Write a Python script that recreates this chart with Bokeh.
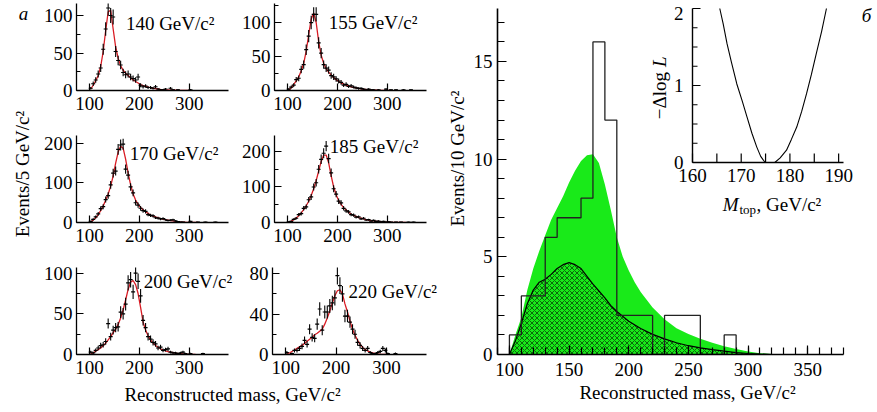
import numpy as np
from bokeh.plotting import figure
from bokeh.models import Range1d, SingleIntervalTicker, Label
from bokeh.layouts import row, column
from bokeh.embed import file_html
from bokeh.resources import INLINE
from bokeh.core.properties import value

FONT = "Liberation Serif"
FS = "19px"
GREEN = "#19ea19"
RED = "#d91c24"

# ---------------- data: small panels (5 GeV bins) ----------------
MASS5 = np.arange(102.5, 360.0, 5.0)   # bin centres 102.5 ... 357.5

P140_N = [3, 9, 14, 22, 30, 55, 82, 110, 100, 98,
          52, 40, 34, 24, 21, 22, 18, 16, 14, 18,
          7, 5, 6, 4, 4, 3, 5, 2, 1, 1,
          2, 0, 3, 1, 0, 1, 0, 0, 0, 0,
          1, 0, 0, 0, 0, 0, 0, 0, 0, 0, 0, 0]
P140_FIT = [2, 7, 13, 20, 32, 52, 80, 105, 107, 82,
            58, 43, 33, 27, 23, 20, 17, 14, 12, 10,
            8, 6.5, 5.5, 4.5, 3.7, 3, 2.5, 2, 1.6, 1.3,
            1, 0.8, 0.6, 0.5, 0.4, 0.3, 0.2, 0.15, 0.1, 0.05,
            0, 0, 0, 0, 0, 0, 0, 0, 0, 0, 0, 0]

P155_N = [2, 5, 8, 16, 18, 31, 38, 60, 80, 100,
          112, 112, 70, 55, 38, 33, 30, 22, 20, 17,
          14, 12, 8, 9, 6, 7, 5, 4, 3, 3,
          2, 1, 2, 1, 1, 0, 1, 0, 0, 2,
          0, 1, 0, 1, 0, 0, 1, 0, 0, 1, 0, 0]
P155_FIT = [1, 4, 9, 14, 20, 29, 40, 58, 82, 105,
            114, 100, 72, 52, 40, 32, 27, 23, 19, 16,
            13.5, 11, 9.5, 8, 6.5, 5.5, 4.5, 3.7, 3, 2.4,
            1.9, 1.5, 1.2, 0.9, 0.7, 0.5, 0.35, 0.25, 0.15, 0.1,
            0.05, 0, 0, 0, 0, 0, 0, 0, 0, 0, 0, 0]

P170_N = [3, 8, 14, 22, 35, 40, 58, 68, 95, 125,
          130, 185, 196, 198, 135, 120, 90, 75, 50, 44,
          36, 30, 28, 20, 18, 17, 12, 11, 9, 10,
          7, 5, 6, 7, 4, 2, 1, 1, 0, 0,
          3, 0, 0, 1, 0, 0, 1, 0, 0, 0, 1, 0]
P170_FIT = [2, 6, 12, 20, 30, 42, 56, 72, 92, 118,
            150, 178, 193, 188, 160, 125, 95, 72, 57, 46,
            38, 32, 27, 23, 19, 16, 14, 12, 10, 8.5,
            7, 6, 5, 4, 3, 2.3, 1.7, 1.2, 0.8, 0.5,
            0.3, 0.2, 0.1, 0, 0, 0, 0, 0, 0, 0, 0, 0]

P185_N = [2, 3, 9, 12, 22, 25, 40, 44, 64, 72,
          100, 112, 150, 178, 195, 215, 180, 140, 95, 80,
          60, 55, 40, 33, 30, 22, 21, 15, 16, 10,
          12, 7, 8, 4, 6, 3, 4, 2, 3, 1,
          2, 1, 0, 1, 0, 1, 0, 0, 1, 0, 1, 0]
P185_FIT = [1, 4, 8, 13, 19, 27, 36, 47, 60, 76,
            95, 118, 145, 172, 190, 190, 168, 132, 100, 78,
            62, 51, 42, 35, 29, 24, 20, 17, 14, 12,
            10, 8, 6.5, 5.5, 4.5, 3.5, 2.8, 2.2, 1.7, 1.3,
            1, 0.7, 0.5, 0.35, 0.25, 0.15, 0.1, 0, 0, 0, 0, 0]

P200_N = [3, 2, 5, 8, 11, 12, 16, 38, 22, 30,
          33, 34, 52, 50, 62, 88, 92, 77, 100, 90,
          72, 42, 33, 22, 19, 15, 13, 8, 9, 5,
          6, 7, 3, 2, 2, 1, 2, 3, 1, 0,
          1, 0, 0, 0, 0, 1, 0, 0, 0, 0, 0, 0]
P200_FIT = [1, 2, 4, 6, 8, 11, 14, 18, 22, 27,
            31, 37, 45, 55, 67, 80, 89, 91, 86, 75,
            58, 40, 30, 23, 18, 14, 11, 9, 7, 5.5,
            4.5, 3.5, 2.8, 2.2, 1.7, 1.3, 1, 0.7, 0.5, 0.3,
            0.2, 0.1, 0, 0, 0, 0, 0, 0, 0, 0, 0, 0]

P220_N = [2, 0, 1, 4, 4, 6, 8, 14, 10, 25,
          17, 16, 30, 45, 24, 42, 42, 48, 51, 56,
          78, 68, 60, 38, 38, 32, 25, 20, 12, 9,
          6, 4, 6, 2, 1, 1, 2, 3, 6, 4,
          1, 0, 0, 1, 0, 0, 0, 0, 0, 0, 0, 0]
P220_FIT = [0.5, 1.5, 3, 4.5, 6, 7.5, 9, 11, 13, 15,
            17, 19.5, 21, 23, 25, 30, 36, 43, 51, 58,
            63, 64, 60, 50, 42, 33, 25, 19, 14, 10,
            7, 5, 3.5, 2.3, 1.5, 1, 0.6, 0.3, 0.15, 0.05,
            0, 0, 0, 0, 0, 0, 0, 0, 0, 0, 0, 0]

# ---------------- data: main panel (10 GeV bins) ----------------
HIST_LO = [100, 110, 120, 130, 140, 150, 160, 170, 180, 190,
           200, 210, 220, 230, 240, 250, 260, 270, 280, 290]
HIST_N = [1, 3, 3, 6, 7, 7, 8, 16, 12, 2,
          2, 2, 0, 2, 2, 2, 0, 0, 1, 0]
HIST_W = 10

TOT_M = [100, 105, 110, 115, 120, 125, 130, 135, 140, 145, 150, 155, 160, 165,
         170, 175, 180, 185, 190, 195, 200, 205, 210, 215, 220, 230, 240, 250,
         260, 270, 280, 290, 300, 310, 320, 330]
TOT_V = [0, 1.0, 1.9, 3.3, 4.4, 5.3, 6.1, 6.9, 7.5, 8.1, 8.8, 9.4, 9.9, 10.2,
         10.25, 9.8, 8.7, 7.4, 6.0, 5.0, 4.3, 3.7, 3.2, 2.8, 2.4, 1.8, 1.35, 1.05,
         0.8, 0.6, 0.42, 0.28, 0.15, 0.07, 0.02, 0]

BKG_M = [100, 105, 110, 115, 120, 125, 130, 135, 140, 145, 150, 155, 160, 165,
         170, 175, 180, 185, 190, 200, 210, 220, 230, 240, 250, 260, 270, 280,
         290, 300, 310, 320]
BKG_V = [0, 0.7, 1.6, 2.6, 3.3, 3.7, 3.85, 4.1, 4.4, 4.6, 4.7, 4.6, 4.4, 4.0,
         3.6, 3.25, 2.9, 2.5, 2.2, 1.7, 1.33, 1.03, 0.8, 0.6, 0.45, 0.34, 0.25, 0.17,
         0.1, 0.05, 0.02, 0]

# ---------------- data: inset (-dlogL vs Mtop) ----------------
MTOP = [165.6, 166.3, 167.1, 168.0, 169.1, 170.2, 171.2, 172.2, 173.2, 174.0,
        174.9, 176.9, 178.0, 179.3, 180.3, 181.4, 182.4, 183.4, 184.4, 185.4,
        186.5, 187.5]
DLOGL = [2.0, 1.8, 1.54, 1.3, 1.02, 0.8, 0.59, 0.38, 0.2, 0.08,
         0.0, 0.0, 0.06, 0.16, 0.3, 0.46, 0.66, 0.89, 1.14, 1.41,
         1.7, 2.0]
INSET_X = (160, 191)
INSET_Y = (0, 2)
INSET_XTICKS = [160, 165, 170, 175, 180, 185, 190]
INSET_XLABELS = [160, 170, 180, 190]
INSET_YTICKS = [0, 0.25, 0.5, 0.75, 1, 1.25, 1.5, 1.75, 2]
INSET_YLABELS = [0, 1, 2]


def style_axes(p, xint, xminor, yint, yminor, xstand, ystand, xb, yb, tick_in=7, minor_in=4):
    p.xaxis.ticker = SingleIntervalTicker(interval=xint, num_minor_ticks=xminor)
    p.yaxis.ticker = SingleIntervalTicker(interval=yint, num_minor_ticks=yminor)
    p.xaxis.bounds = xb
    p.yaxis.bounds = yb
    for ax in (p.xaxis[0], p.yaxis[0]):
        ax.major_tick_in = tick_in
        ax.major_tick_out = 0
        ax.minor_tick_in = minor_in
        ax.minor_tick_out = 0
        ax.axis_line_width = 1.3
        ax.axis_line_color = "black"
        ax.major_tick_line_width = 1.2
        ax.minor_tick_line_width = 1.2
        ax.major_tick_line_color = "black"
        ax.minor_tick_line_color = "black"
        ax.major_label_text_font = FONT
        ax.major_label_text_font_size = FS
        ax.major_label_text_color = "black"
    p.xaxis.major_label_standoff = xstand
    p.yaxis.major_label_standoff = ystand
    p.xgrid.visible = False
    p.ygrid.visible = False
    p.outline_line_color = None


# small panels: visible x axis 74..379 over 154 px
SX0, SX1 = 74, 379
SPXU = 154 / (SX1 - SX0)


def small_panel(counts, fit, ytop, yint, label, lx, ly, width, mbl, height, mbt, mbb):
    fw = width - mbl
    fh = height - mbt - mbb
    p = figure(width=width, height=height, x_range=Range1d(SX0, SX0 + fw / SPXU),
               y_range=Range1d(0, ytop), output_backend="svg", toolbar_location=None,
               title=None, min_border_left=mbl, min_border_right=0,
               min_border_top=mbt, min_border_bottom=mbb)
    style_axes(p, 100, 0, yint, 2, 6, 4, (SX0, SX1), (0, ytop))
    fit = np.array(fit, dtype=float)
    last = int(np.nonzero(fit > 0)[0][-1]) + 2
    p.line(MASS5[:last], fit[:last], color=RED, line_width=1.3)
    c = np.array(counts, dtype=float)
    m = c > 0
    err = np.sqrt(c[m])
    p.segment(x0=MASS5[m], y0=c[m] - err, x1=MASS5[m], y1=c[m] + err,
              color="black", line_width=1.1)
    p.scatter(MASS5[m], c[m], marker="dash", size=4, line_color="black", line_width=1.2)
    lab = Label(x=SX0 + lx / SPXU, y=ly / fh * ytop, text=label,
                text_font=FONT, text_font_size=FS, text_baseline="middle",
                text_align="left", text_color="black")
    p.add_layout(lab)
    return p


W1, W2 = 198, 207
H1, H2, H3 = 120, 132, 131
p1 = small_panel(P140_N, P140_FIT, 116, 50, "140 GeV/c²", 50, 67, W1, 34, H1, 3, 30)
p2 = small_panel(P155_N, P155_FIT, 128, 50, "155 GeV/c²", 55, 68, W2, 34, H1, 3, 30)
p3 = small_panel(P170_N, P170_FIT, 220, 100, "170 GeV/c²", 54, 69, W1, 34, H2, 15, 30)
p4 = small_panel(P185_N, P185_FIT, 245, 100, "185 GeV/c²", 56, 76, W2, 34, H2, 15, 30)
p5 = small_panel(P200_N, P200_FIT, 107, 50, "200 GeV/c²", 68, 73, W1, 34, H3, 15, 29)
p6 = small_panel(P220_N, P220_FIT, 86, 40, "220 GeV/c²", 76, 63, W2, 34, H3, 15, 29)


def text_strip(width, height):
    f = figure(width=width, height=height, x_range=Range1d(0, width), y_range=Range1d(0, height),
               output_backend="svg", toolbar_location=None, title=None,
               x_axis_type=None, y_axis_type=None,
               min_border_left=0, min_border_right=0, min_border_top=0, min_border_bottom=0)
    f.outline_line_color = None
    return f


# shared labels of the left block
ylab = text_strip(40, 412)
ylab.text(x=[23], y=[397], text=["а"], text_font=value(FONT), text_font_size="19px",
          text_font_style="italic", text_align="center", text_baseline="middle", color="black")
ylab.text(x=[22], y=[210], text=["Events/5 GeV/c²"], text_font=value(FONT),
          text_font_size="19px", angle=np.pi / 2, text_align="center",
          text_baseline="middle", color="black")

xlab = text_strip(W1 + W2, 29)
xlab.text(x=[192], y=[18], text=["Reconstructed mass, GeV/c²"], text_font=value(FONT),
          text_font_size="19px", text_align="center", text_baseline="middle", color="black")

# y label of the main panel
mylab = text_strip(24, 412)
mylab.text(x=[12], y=[228], text=["Events/10 GeV/c²"], text_font=value(FONT),
           text_font_size="19px", angle=np.pi / 2, text_align="center",
           text_baseline="middle", color="black")

# ---------------- main panel ----------------
MW, MH = 408, 412
MBL, MBB = 28, 58
fw = MW - MBL          # frame reaches the right edge of the window
fh = MH - MBB          # frame reaches the top of the window
MX = (90, 380)         # drawn x axis, 346 px long
MY = (0, 17.71)        # drawn y axis, 346 px long
MPXU = 346 / (MX[1] - MX[0])
MPYU = 346 / (MY[1] - MY[0])
main = figure(width=MW, height=MH, x_range=Range1d(MX[0], MX[0] + fw / MPXU),
              y_range=Range1d(MY[0], MY[0] + fh / MPYU),
              output_backend="svg", toolbar_location=None, title=None,
              min_border_left=MBL, min_border_right=0, min_border_top=0,
              min_border_bottom=MBB)
style_axes(main, 50, 5, 5, 5, 8, 5, MX, MY, tick_in=9, minor_in=7)
main.xaxis.axis_label = "Reconstructed mass, GeV/c²"
ax = main.xaxis[0]
ax.axis_label_text_font = FONT
ax.axis_label_text_font_size = FS
ax.axis_label_text_font_style = "normal"
ax.axis_label_text_color = "black"
ax.axis_label_standoff = 3
main.xaxis.axis_line_width = 1.6
main.yaxis.axis_line_width = 1.6

main.varea(x=TOT_M, y1=0, y2=TOT_V, fill_color=GREEN)
main.varea(x=BKG_M, y1=0, y2=BKG_V, fill_color=GREEN, hatch_pattern="x",
           hatch_color="black", hatch_scale=5, hatch_weight=0.7, hatch_alpha=0.8)
main.line(BKG_M, BKG_V, color="black", line_width=1.2)

hx, hy = [HIST_LO[0]], [0]
for lo, n in zip(HIST_LO, HIST_N):
    hx += [lo, lo + HIST_W]
    hy += [n, n]
hx.append(HIST_LO[-1] + HIST_W)
hy.append(0)
main.line(hx, hy, color="#222222", line_width=1.3)

# inset drawn through its own ranges mapped onto the main frame
INSET_LEFT_PX = 195     # inset y-axis distance from main frame left edge
INSET_W_PX = 151
INSET_BOTTOM_PX = 192   # inset x-axis distance above main frame bottom edge
INSET_H_PX = 154
ixs = INSET_W_PX / (INSET_X[1] - INSET_X[0])
iys = INSET_H_PX / (INSET_Y[1] - INSET_Y[0])
main.extra_x_ranges = {"ix": Range1d(INSET_X[0] - INSET_LEFT_PX / ixs,
                                     INSET_X[0] + (fw - INSET_LEFT_PX) / ixs)}
main.extra_y_ranges = {"iy": Range1d(INSET_Y[0] - INSET_BOTTOM_PX / iys,
                                     INSET_Y[0] + (fh - INSET_BOTTOM_PX) / iys)}
ir = dict(x_range_name="ix", y_range_name="iy")

main.line([INSET_X[0], INSET_X[1]], [INSET_Y[0], INSET_Y[0]], color="black", line_width=1.4, **ir)
main.line([INSET_X[0], INSET_X[0]], [INSET_Y[0], INSET_Y[1]], color="black", line_width=1.4, **ir)
main.ray(x=INSET_XTICKS, y=[INSET_Y[0]] * len(INSET_XTICKS), length=9, length_units="screen",
         angle=np.pi / 2, color="black", line_width=1.2, **ir)
ylen = [8 if t in INSET_YLABELS else 5 for t in INSET_YTICKS]
main.ray(x=[INSET_X[0]] * len(INSET_YTICKS), y=INSET_YTICKS, length=ylen, length_units="screen",
         angle=0, color="black", line_width=1.2, **ir)
main.text(x=INSET_XLABELS, y=[INSET_Y[0]] * len(INSET_XLABELS),
          text=[str(v) for v in INSET_XLABELS], y_offset=6, text_font=value(FONT),
          text_font_size="19px", text_align="center", text_baseline="top", color="black", **ir)
# the top label sits a little lower so that it stays inside the window
ylab_off = [5 if v == INSET_Y[1] else 0 for v in INSET_YLABELS]
main.text(x=[INSET_X[0]] * len(INSET_YLABELS), y=INSET_YLABELS,
          text=[str(v) for v in INSET_YLABELS], x_offset=-9, y_offset=ylab_off,
          text_font=value(FONT), text_font_size="19px", text_align="right",
          text_baseline="middle", color="black", **ir)
main.line(MTOP, DLOGL, color="black", line_width=1.1, **ir)

# inset axis titles
ly_x = INSET_X[0] - 33 / ixs
ly_y = INSET_Y[0] + 93 / iys
main.text(x=[ly_x], y=[ly_y], y_offset=2.5, text=["−Δlog"], angle=np.pi / 2,
          text_font=value(FONT), text_font_size="19px", text_align="right",
          text_baseline="middle", color="black", **ir)
main.text(x=[ly_x], y=[ly_y], y_offset=-2.5, text=["L"], angle=np.pi / 2,
          text_font=value(FONT), text_font_style="italic", text_font_size="19px",
          text_align="left", text_baseline="middle", color="black", **ir)
mx = INSET_X[0] + 46 / ixs
main.text(x=[mx], y=[INSET_Y[0]], y_offset=42, text=["M"], text_font=value(FONT),
          text_font_style="italic", text_font_size="19px", text_align="right",
          text_baseline="alphabetic", color="black", **ir)
main.text(x=[mx], y=[INSET_Y[0]], y_offset=47, x_offset=1, text=["top"], text_font=value(FONT),
          text_font_size="13px", text_align="left", text_baseline="alphabetic",
          color="black", **ir)
main.text(x=[mx], y=[INSET_Y[0]], y_offset=42, x_offset=18, text=[", GeV/c²"],
          text_font=value(FONT), text_font_size="19px", text_align="left",
          text_baseline="alphabetic", color="black", **ir)

main.add_layout(Label(x=MX[0] + (346 + 23) / MPXU, y=MY[0] + (fh - 15) / MPYU,
                      text="б", text_font=FONT, text_font_style="italic", text_font_size=FS,
                      text_align="center", text_baseline="middle", text_color="black"))

left = column(row(p1, p2), row(p3, p4), row(p5, p6), xlab)
layout = row(ylab, left, mylab, main)

open("out.html", "w").write(file_html(layout, INLINE))
